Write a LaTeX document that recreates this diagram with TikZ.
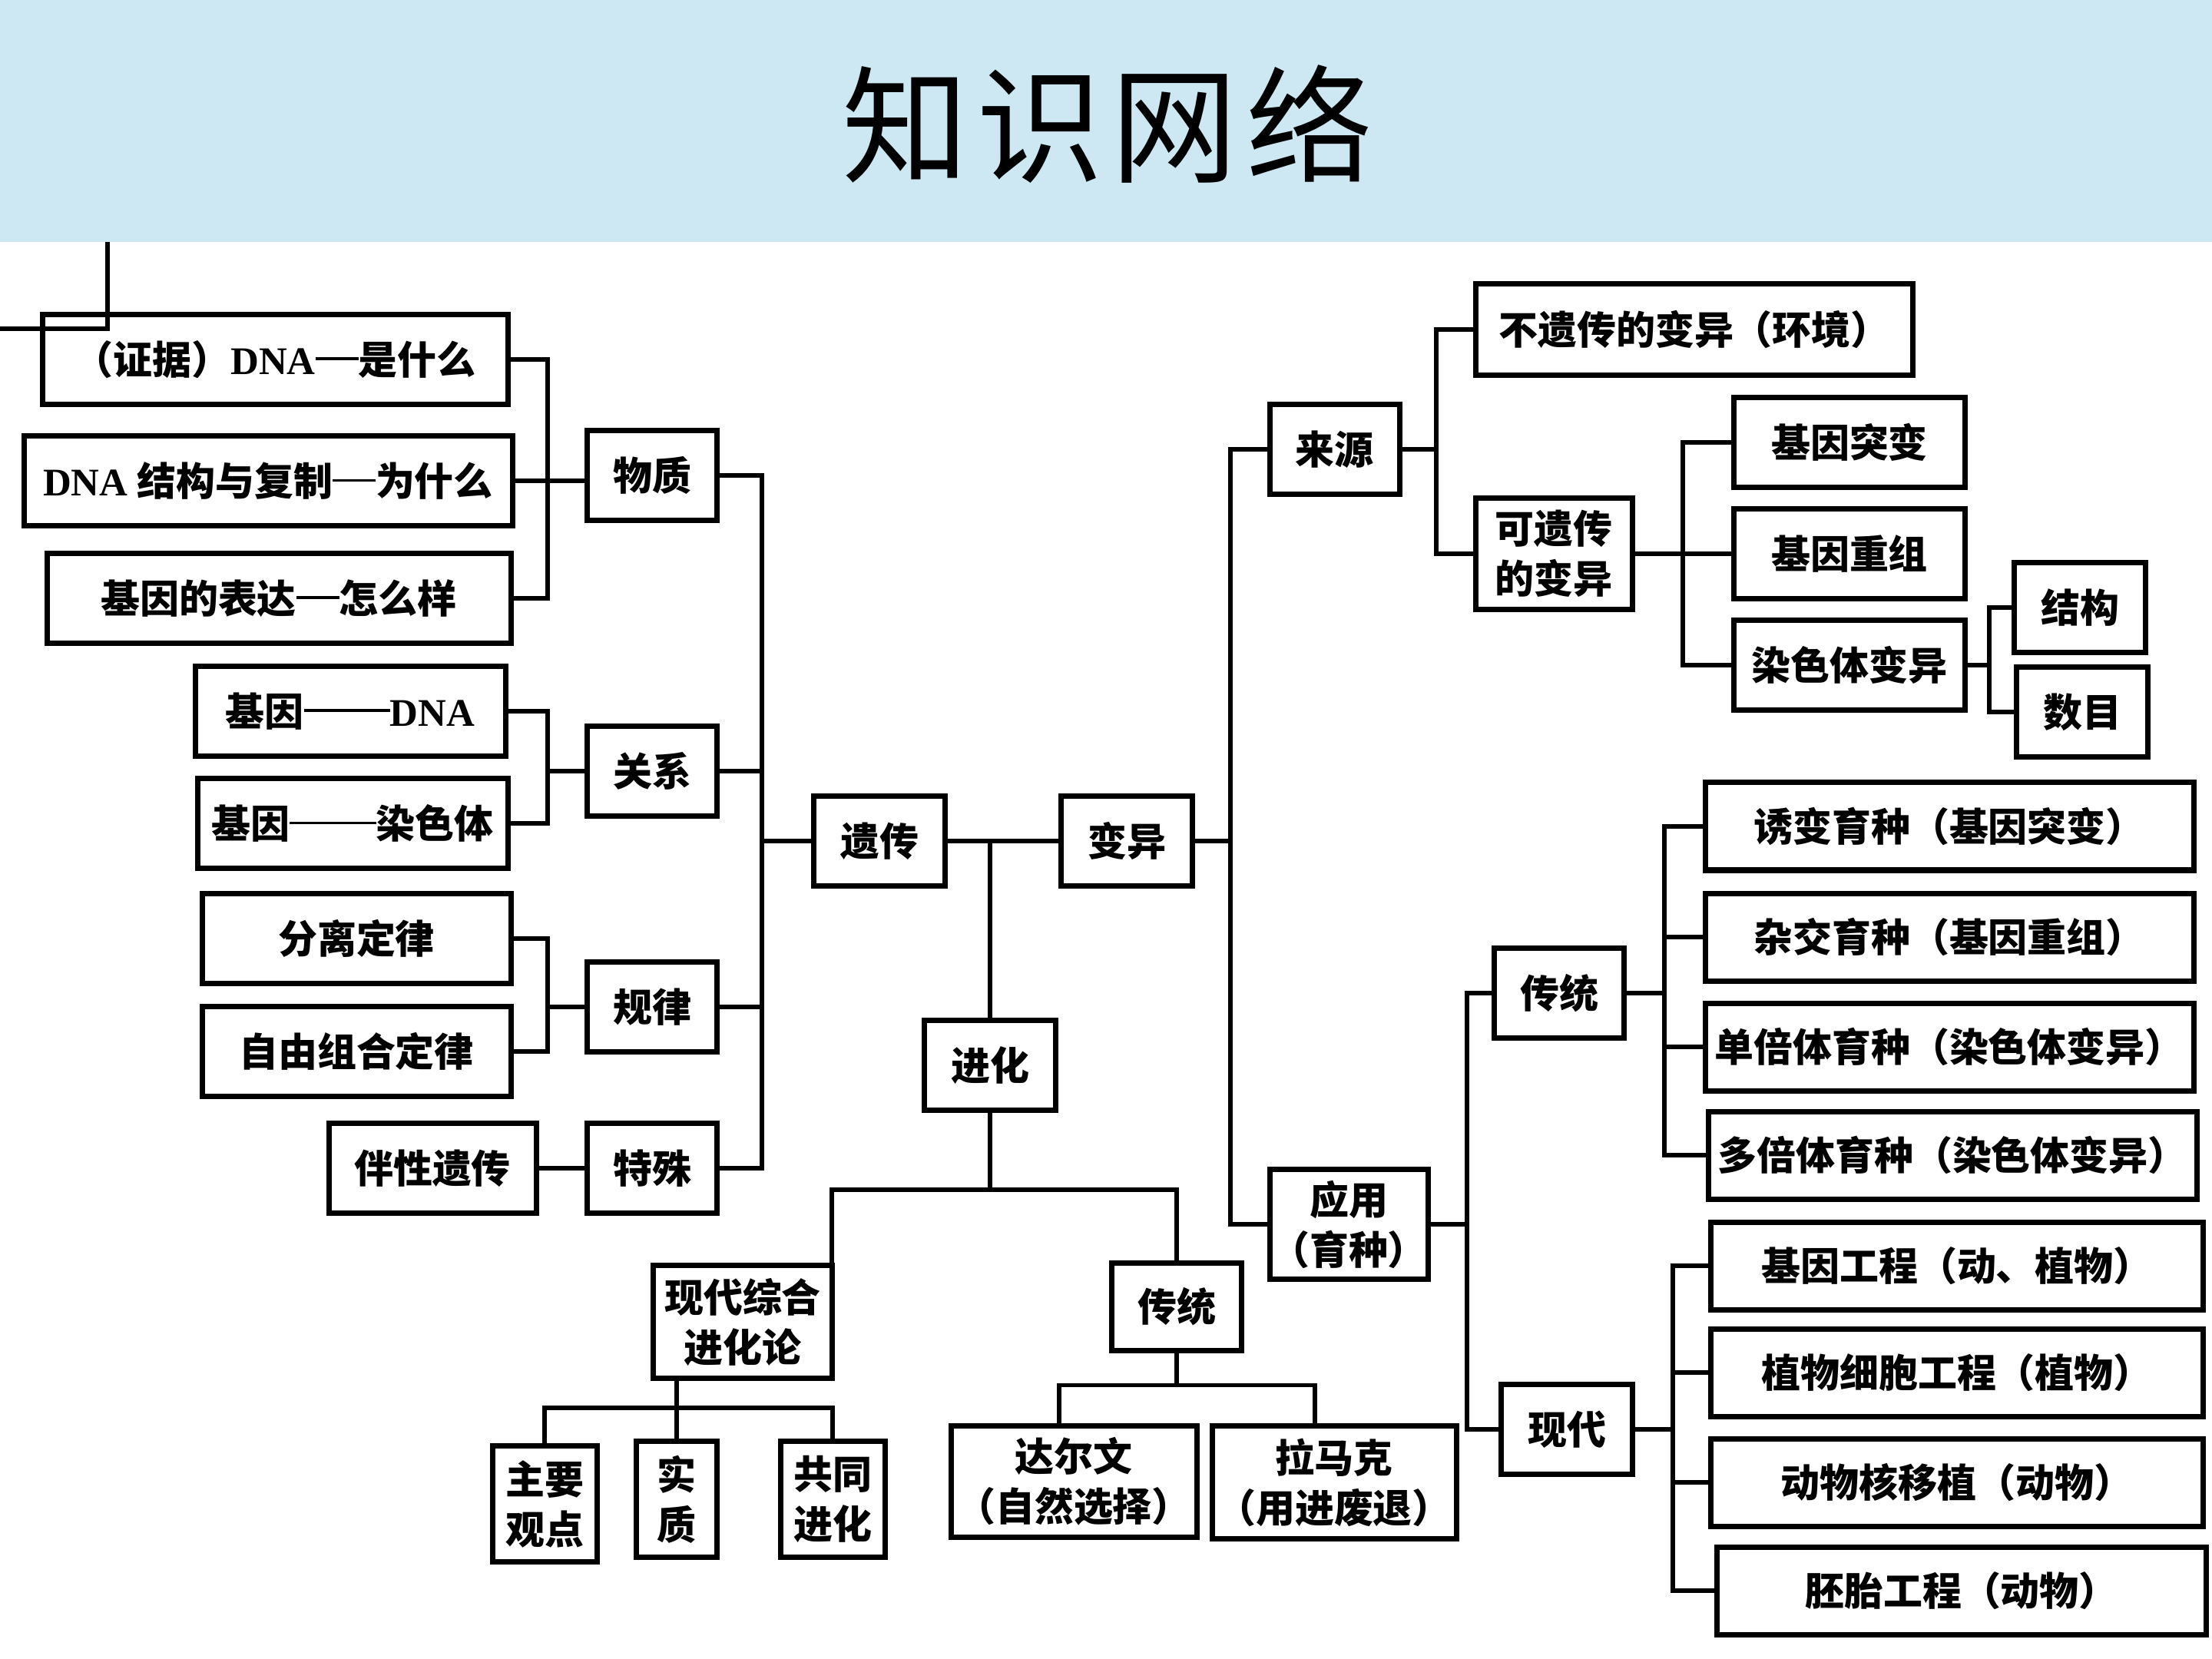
\documentclass[tikz,border=0pt]{standalone}
\usepackage{fontspec}
\setmainfont{Liberation Serif}
\newfontfamily\cjk{Noto Sans CJK SC}
\newfontfamily\latfont{Liberation Serif}
\usetikzlibrary{positioning, calc}
\definecolor{banner}{RGB}{205,232,243}
\newcommand{\dna}{{\latfont\bfseries DNA}}
\newcommand{\ldash}[1]{\rule[0.36em]{#1em}{0.07em}}

\begin{document}
\begin{tikzpicture}[y=-1cm,
    box/.style={draw, line width=0.7mm, inner sep=0pt, minimum height=1.17cm, align=center,
      font=\cjk\bfseries\fontsize{14.5}{18.5}\selectfont},
    link/.style={line width=0.55mm}]
  \useasboundingbox (0,0) rectangle (28.8,21.6);
  \fill[banner] (0,0) rectangle (28.8,3.15);
  \node[font=\cjk\fontsize{47}{50}\selectfont] (title) at (14.42,1.62) {知\hspace{1mm}识\hspace{1mm}网\hspace{1mm}络};

  % 遗传
  \node[box, minimum width=6.06cm] (zj) at (3.58,4.68) {（证据）\dna\ldash{1.1}是什么};
  \node[box, minimum width=6.36cm] (jg) at (3.49,6.26) {\dna\ 结构与复制\ldash{1.1}为什么};
  \node[box, minimum width=6.04cm] (bd) at (3.63,7.79) {基因的表达\ldash{1.1}怎么样};
  \node[box, minimum width=1.69cm] (wz) at (8.49,6.19) {物质};
  \node[box, minimum width=4.04cm] (jd) at (4.56,9.26) {基因\ldash{2.2}\dna};
  \node[box, minimum width=4.04cm] (jr) at (4.59,10.72) {基因\ldash{2.2}染色体};
  \node[box, minimum width=1.69cm] (gx) at (8.49,10.04) {关系};
  \node[box, minimum width=4.02cm] (fl) at (4.64,12.22) {分离定律};
  \node[box, minimum width=4.02cm] (zy) at (4.64,13.69) {自由组合定律};
  \node[box, minimum width=1.69cm] (gl) at (8.49,13.11) {规律};
  \node[box, minimum width=2.70cm] (bx) at (5.63,15.21) {伴性遗传};
  \node[box, minimum width=1.69cm] (ts) at (8.49,15.21) {特殊};

  \node[box, minimum width=1.71cm] (yc) at (11.45,10.95) {遗传};
  \node[box, minimum width=1.71cm] (by) at (14.67,10.95) {变异};
  \node[box, minimum width=1.71cm] (jh) at (12.89,13.87) {进化};

  % 进化
  \node[box, minimum width=2.33cm, minimum height=1.47cm] (xz) at (9.67,17.21) {现代综合\\进化论};
  \node[box, minimum width=1.69cm, minimum height=1.14cm] (ct) at (15.32,17.01) {传统};
  \node[box, minimum width=3.20cm, minimum height=1.45cm] (dew) at (13.98,19.29) {达尔文\\（自然选择）};
  \node[box, minimum width=3.18cm, minimum height=1.47cm] (lmk) at (17.37,19.30) {拉马克\\（用进废退）};
  \node[box, minimum width=1.36cm, minimum height=1.51cm] (zygd) at (7.09,19.58) {主要\\观点};
  \node[box, minimum width=1.05cm, minimum height=1.51cm] (sz) at (8.81,19.52) {实\\质};
  \node[box, minimum width=1.36cm, minimum height=1.51cm] (gtjh) at (10.84,19.52) {共同\\进化};

  % 变异
  \node[box, minimum width=1.69cm] (ly) at (17.375,5.85) {来源};
  \node[box, minimum width=2.06cm, minimum height=1.43cm] (yy) at (17.56,15.94) {应用\\（育种）};
  \node[box, minimum width=5.69cm, minimum height=1.19cm] (byc) at (22.06,4.29) {不遗传的变异（环境）};
  \node[box, minimum width=2.04cm, minimum height=1.45cm] (kyc) at (20.23,7.21) {可遗传\\的变异};
  \node[box, minimum width=3.01cm] (jtb) at (24.08,5.76) {基因突变};
  \node[box, minimum width=3.01cm] (jcz) at (24.08,7.21) {基因重组};
  \node[box, minimum width=3.01cm] (rsb) at (24.08,8.66) {染色体变异};
  \node[box, minimum width=1.71cm] (jgo) at (27.08,7.91) {结构};
  \node[box, minimum width=1.71cm] (smu) at (27.11,9.27) {数目};
  \node[box, minimum width=1.69cm] (ct2) at (20.30,12.93) {传统};
  \node[box, minimum width=1.71cm] (xd) at (20.40,18.61) {现代};
  \node[box, minimum width=6.36cm, minimum height=1.14cm] (e1) at (25.38,10.76) {诱变育种（基因突变）};
  \node[box, minimum width=6.36cm, minimum height=1.14cm] (e2) at (25.38,12.20) {杂交育种（基因重组）};
  \node[box, minimum width=6.36cm, minimum height=1.14cm] (e3) at (25.38,13.63) {单倍体育种（染色体变异）};
  \node[box, minimum width=6.36cm, minimum height=1.14cm] (e4) at (25.42,15.04) {多倍体育种（染色体变异）};
  \node[box, minimum width=6.41cm, minimum height=1.14cm] (f1) at (25.48,16.48) {基因工程（动、植物）};
  \node[box, minimum width=6.41cm, minimum height=1.14cm] (f2) at (25.48,17.87) {植物细胞工程（植物）};
  \node[box, minimum width=6.41cm, minimum height=1.14cm] (f3) at (25.48,19.30) {动物核移植（动物）};
  \node[box, minimum width=6.37cm, minimum height=1.14cm] (f4) at (25.54,20.71) {胚胎工程（动物）};

  % spines
  \coordinate (s1) at (7.13,0);
  \coordinate (s2) at (9.92,0);
  \coordinate (s3) at (16.02,0);
  \coordinate (s4) at (18.70,0);
  \coordinate (s5) at (21.91,0);
  \coordinate (s6) at (25.90,0);
  \coordinate (s7) at (19.10,0);
  \coordinate (s8) at (21.67,0);
  \coordinate (s9) at (21.78,0);

  \draw[link] (zj.east) -- (zj.east -| s1) |- (bd.east);
  \draw[link] (jg.east) -- (jg.east -| wz.west);
  \draw[link] (jd.east) -- (jd.east -| s1) |- (jr.east);
  \draw[link] (gx.west) -- (gx.west -| s1);
  \draw[link] (fl.east) -- (fl.east -| s1) |- (zy.east);
  \draw[link] (gl.west) -- (gl.west -| s1);
  \draw[link] (bx.east) -- (ts.west);
  \draw[link] (wz.east) -- (wz.east -| s2) |- (ts.east);
  \draw[link] (gx.east) -- (gx.east -| s2);
  \draw[link] (gl.east) -- (gl.east -| s2);
  \draw[link] (yc.west) -- (yc.west -| s2);

  \draw[link] (yc.east) -- (by.west);
  \draw[link] (jh.north) -- (jh.north |- yc.east);
  \draw[link] (jh.south) -- ++(0,1.0) coordinate (jb);
  \draw[link] ([xshift=-0.4mm]xz.north east) |- (jb) -| (ct.north);
  \draw[link] (ct.south) -- ++(0,0.42) coordinate (cb);
  \draw[link] ([xshift=-1.9mm]dew.north) |- (cb) -| ([xshift=-2.5mm]lmk.north);
  \draw[link] (sz.north) -- (sz.north |- xz.south);
  \draw[link] (zygd.north) -- ++(0,-0.46) -| (gtjh.north);

  \draw[link] (by.east) -- (by.east -| s3);
  \draw[link] (ly.west) -- (ly.west -| s3) |- (yy.west);
  \draw[link] (ly.east) -- (ly.east -| s4);
  \draw[link] (byc.west) -- (byc.west -| s4) |- (kyc.west);
  \draw[link] (kyc.east) -- (jcz.west);
  \draw[link] (jtb.west) -- (jtb.west -| s5) |- (rsb.west);
  \draw[link] (jgo.west) -- (jgo.west -| s6) |- (smu.west);
  \draw[link] (rsb.east) -- (rsb.east -| s6);
  \draw[link] (yy.east) -- (yy.east -| s7);
  \draw[link] (ct2.west) -- (ct2.west -| s7) |- (xd.west);
  \draw[link] (ct2.east) -- (ct2.east -| s8);
  \draw[link] (e1.west) -- (e1.west -| s8) |- (e4.west);
  \foreach \n in {e2,e3} \draw[link] (\n.west) -- (\n.west -| s8);
  \draw[link] (xd.east) -- (xd.east -| s9);
  \draw[link] (f1.west) -- (f1.west -| s9) |- (f4.west);
  \foreach \n in {f2,f3} \draw[link] (\n.west) -- (\n.west -| s9);

  % corner left over at the top
  \draw[link] (1.40,3.15) -- (1.40,4.28) -- (0,4.28);
\end{tikzpicture}
\end{document}
